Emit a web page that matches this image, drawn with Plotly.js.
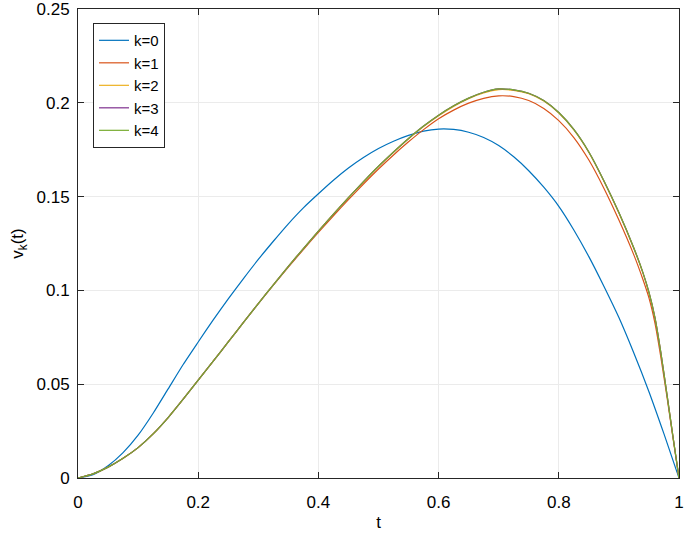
<!DOCTYPE html>
<html>
<head>
<meta charset="utf-8">
<script src="https://cdn.plot.ly/plotly-3.0.1.min.js"></script>
<style>html,body{margin:0;padding:0;background:#fff;}#chart{width:685px;height:533px;}</style>
</head>
<body>
<div id="chart"></div>
<script>
// k=0
const t0 = [0, 0.025, 0.05, 0.075, 0.1, 0.125, 0.15, 0.175, 0.2, 0.225, 0.25, 0.275, 0.3, 0.325, 0.35, 0.375, 0.4, 0.425, 0.45, 0.475, 0.5, 0.525, 0.55, 0.575, 0.6, 0.625, 0.65, 0.675, 0.7, 0.725, 0.75, 0.775, 0.8, 0.825, 0.85, 0.875, 0.9, 0.925, 0.95, 0.975, 1];
const v0 = [0, 0.0018, 0.0065, 0.0135, 0.0228, 0.0345, 0.0475, 0.0605, 0.0725, 0.0843, 0.0955, 0.1062, 0.1165, 0.1262, 0.1355, 0.144, 0.1515, 0.1587, 0.1652, 0.1708, 0.1756, 0.1795, 0.1826, 0.1849, 0.186, 0.1858, 0.1843, 0.1815, 0.1772, 0.1712, 0.1638, 0.155, 0.1448, 0.1322, 0.118, 0.1022, 0.0855, 0.0665, 0.046, 0.0235, 0];
// k=1..4
const tk = [0, 0.025, 0.05, 0.075, 0.1, 0.125, 0.15, 0.175, 0.2, 0.225, 0.25, 0.275, 0.3, 0.325, 0.35, 0.375, 0.4, 0.425, 0.45, 0.475, 0.5, 0.525, 0.55, 0.575, 0.6, 0.625, 0.65, 0.675, 0.7, 0.725, 0.75, 0.775, 0.8, 0.825, 0.85, 0.875, 0.9, 0.925, 0.94, 0.95, 0.96, 0.97, 0.98, 0.99, 1];
const v1 = [0, 0.0022, 0.0058, 0.0105, 0.0162, 0.0235, 0.0322, 0.042, 0.0522, 0.0623, 0.0725, 0.0828, 0.093, 0.1028, 0.1124, 0.1218, 0.1309, 0.1398, 0.1484, 0.1567, 0.1647, 0.1722, 0.1792, 0.1857, 0.1915, 0.1961, 0.1998, 0.2024, 0.2037, 0.2033, 0.2012, 0.197, 0.1905, 0.1815, 0.1695, 0.1545, 0.1375, 0.1188, 0.1058, 0.096, 0.0825, 0.064, 0.0432, 0.0214, 0];
const v2 = [0, 0.0022, 0.0058, 0.0105, 0.0162, 0.0235, 0.0322, 0.042, 0.0522, 0.0623, 0.0725, 0.0828, 0.093, 0.103, 0.1128, 0.1223, 0.1316, 0.1407, 0.1494, 0.1578, 0.166, 0.1736, 0.1808, 0.1873, 0.1931, 0.1981, 0.2022, 0.2052, 0.207, 0.2066, 0.2048, 0.2009, 0.1945, 0.1855, 0.1735, 0.1582, 0.1412, 0.1222, 0.1092, 0.0987, 0.0852, 0.0662, 0.0444, 0.022, 0];
const v3 = [0, 0.0022, 0.0058, 0.0105, 0.0162, 0.0235, 0.0322, 0.042, 0.0522, 0.0623, 0.0725, 0.0828, 0.093, 0.103, 0.1128, 0.1223, 0.1316, 0.1407, 0.1495, 0.158, 0.1662, 0.1738, 0.181, 0.1876, 0.1934, 0.1984, 0.2025, 0.2056, 0.2074, 0.2069, 0.2051, 0.2012, 0.1948, 0.1858, 0.1738, 0.1585, 0.1415, 0.1225, 0.1095, 0.099, 0.0855, 0.0665, 0.0445, 0.022, 0];
const v4 = [0, 0.0022, 0.0058, 0.0105, 0.0162, 0.0235, 0.0322, 0.042, 0.0522, 0.0623, 0.0725, 0.0828, 0.093, 0.103, 0.1128, 0.1223, 0.1316, 0.1407, 0.1495, 0.158, 0.1662, 0.1738, 0.181, 0.1876, 0.1934, 0.1984, 0.2025, 0.2056, 0.2074, 0.2069, 0.2051, 0.2012, 0.1948, 0.1858, 0.1738, 0.1585, 0.1415, 0.1225, 0.1095, 0.099, 0.0855, 0.0665, 0.0445, 0.022, 0];
const names = ['k=0', 'k=1', 'k=2', 'k=3', 'k=4'];
const colors = ['#0072BD', '#D95319', '#EDB120', '#7E2F8E', '#77AC30'];
const xTicks = [0, 0.2, 0.4, 0.6, 0.8, 1];
const xTickText = ['0', '0.2', '0.4', '0.6', '0.8', '1'];
const yTicks = [0, 0.05, 0.1, 0.15, 0.2, 0.25];
const yTickText = ['0', '0.05', '0.1', '0.15', '0.2', '0.25'];

const series = [[t0, v0], [tk, v1], [tk, v2], [tk, v3], [tk, v4]];
const data = series.map((s, i) => ({
  x: s[0], y: s[1], name: names[i], type: 'scatter', mode: 'lines',
  line: {color: colors[i], width: 1.2, shape: 'spline', smoothing: 0.6}
}));

const axisCommon = {
  showline: true, linecolor: '#262626', linewidth: 1,
  mirror: 'ticks', ticks: 'inside', ticklen: 6, tickcolor: '#262626', tickwidth: 1,
  showgrid: true, gridcolor: '#EBEBEB', gridwidth: 1, zeroline: false,
  ticklabeloverflow: 'allow',
  tickfont: {family: 'Liberation Sans, Arial, sans-serif', size: 17, color: '#000'}
};

const layout = {
  width: 685, height: 533,
  margin: {l: 78, r: 6, t: 9, b: 55},
  paper_bgcolor: '#fff', plot_bgcolor: '#fff',
  showlegend: true,
  font: {family: 'Liberation Sans, Arial, sans-serif', color: '#000'},
  xaxis: Object.assign({}, axisCommon, {
    range: [0, 1], tickvals: xTicks, ticktext: xTickText, ticklabelstandoff: 9,
    title: {text: 't', font: {size: 17, color: '#000'}, standoff: 4}
  }),
  yaxis: Object.assign({}, axisCommon, {
    range: [0, 0.25], tickvals: yTicks, ticktext: yTickText, ticklabelstandoff: 4,
    title: {text: 'v<sub>k</sub>(t)', font: {size: 17, color: '#000'}, standoff: 8}
  }),
  legend: {
    x: 0.025, y: 0.97, xanchor: 'left', yanchor: 'top',
    bgcolor: '#fff', bordercolor: '#262626', borderwidth: 1,
    font: {size: 15, color: '#000'}, tracegroupgap: 0
  }
};

Plotly.newPlot('chart', data, layout, {displayModeBar: false, staticPlot: true});
</script>
</body>
</html>
